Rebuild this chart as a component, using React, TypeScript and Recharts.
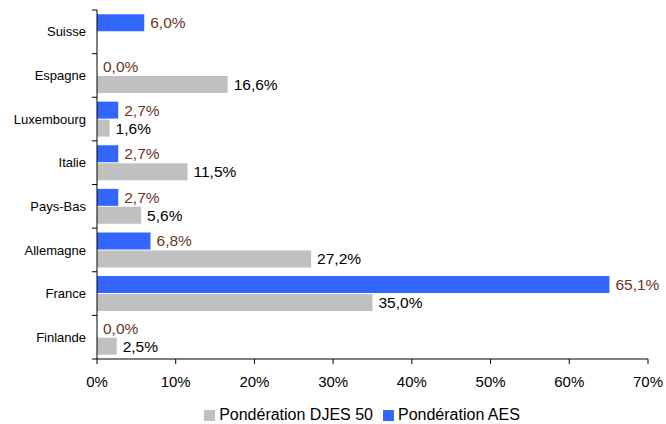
import { Bar, BarChart, LabelList, Legend, XAxis, YAxis } from "recharts";

const countries = ["Suisse", "Espagne", "Luxembourg", "Italie", "Pays-Bas", "Allemagne", "France", "Finlande"];
const aesWeights = [6.0, 0.0, 2.7, 2.7, 2.7, 6.8, 65.1, 0.0];
const djesWeights: (number | null)[] = [null, 16.6, 1.6, 11.5, 5.6, 27.2, 35.0, 2.5];
const xTicks = [0, 10, 20, 30, 40, 50, 60, 70];

const chartData = countries.map((country, i) => ({
  country,
  aes: aesWeights[i],
  djes: djesWeights[i],
}));

const W = 666;
const H = 424;
const TOP = 10;
const X_AXIS_H = 30;
const LEGEND_H = 35;
const Y_AXIS_W = 97;
const BAND = (H - TOP - X_AXIS_H - LEGEND_H) / countries.length;

const FONT = "'Liberation Sans', Arial, sans-serif";
const BLUE = "#3366ff";
const GRAY = "#c0c0c0";
const BROWN = "#6b3524";

const fmt = (v: unknown) => (v == null ? "" : `${Number(v).toFixed(1).replace(".", ",")}%`);

function CountryTick(props: any) {
  const { x, y, payload, index } = props;
  const last = index === countries.length - 1;
  return (
    <g>
      <line x1={Y_AXIS_W - 5} x2={Y_AXIS_W} y1={y - BAND / 2} y2={y - BAND / 2} stroke="#000" />
      {last && <line x1={Y_AXIS_W - 5} x2={Y_AXIS_W} y1={y + BAND / 2} y2={y + BAND / 2} stroke="#000" />}
      <text x={x} y={y} dy="0.36em" textAnchor="end" fontSize={13} fontFamily={FONT} fill="#000">
        {payload.value}
      </text>
    </g>
  );
}

function LegendBox() {
  const items = [
    { label: "Pondération DJES 50", color: GRAY },
    { label: "Pondération AES", color: BLUE },
  ];
  return (
    <div
      style={{
        display: "flex",
        justifyContent: "center",
        paddingLeft: 76,
        paddingTop: 18,
        fontFamily: FONT,
        fontSize: 16,
        lineHeight: "16px",
        color: "#000",
      }}
    >
      {items.map((item, i) => (
        <span
          key={item.label}
          style={{ display: "flex", alignItems: "center", marginRight: i === 0 ? 10 : 0, fontSize: 16 }}
        >
          <span style={{ width: 11, height: 11, background: item.color, marginRight: 4, display: "inline-block" }} />
          {item.label}
        </span>
      ))}
    </div>
  );
}

export default function App() {
  return (
    <div style={{ position: "absolute", left: 0, top: 0, background: "#fff" }}>
      <BarChart
        width={W}
        height={H}
        data={chartData}
        layout="vertical"
        margin={{ top: TOP, right: 18, left: 0, bottom: 0 }}
        barCategoryGap="10%"
        barGap={1}
      >
        <XAxis
          type="number"
          domain={[0, 70]}
          ticks={xTicks}
          tickFormatter={(v) => `${v}%`}
          height={X_AXIS_H}
          stroke="#000"
          tickSize={5}
          tickMargin={12}
          tick={{ fill: "#000", fontSize: 15, fontFamily: FONT }}
        />
        <YAxis
          type="category"
          dataKey="country"
          width={Y_AXIS_W}
          stroke="#000"
          tickLine={false}
          tickSize={5}
          tickMargin={6}
          tick={<CountryTick />}
        />
        <Legend verticalAlign="bottom" height={LEGEND_H} content={() => <LegendBox />} />
        <Bar dataKey="aes" name="Pondération AES" fill={BLUE} minPointSize={0.01} isAnimationActive={false}>
          <LabelList dataKey="aes" position="right" offset={6} formatter={fmt} fill={BROWN} fontSize={15.5} fontFamily={FONT} />
        </Bar>
        <Bar dataKey="djes" name="Pondération DJES 50" fill={GRAY} isAnimationActive={false}>
          <LabelList dataKey="djes" position="right" offset={6} formatter={fmt} fill="#000" fontSize={15.5} fontFamily={FONT} />
        </Bar>
      </BarChart>
    </div>
  );
}
